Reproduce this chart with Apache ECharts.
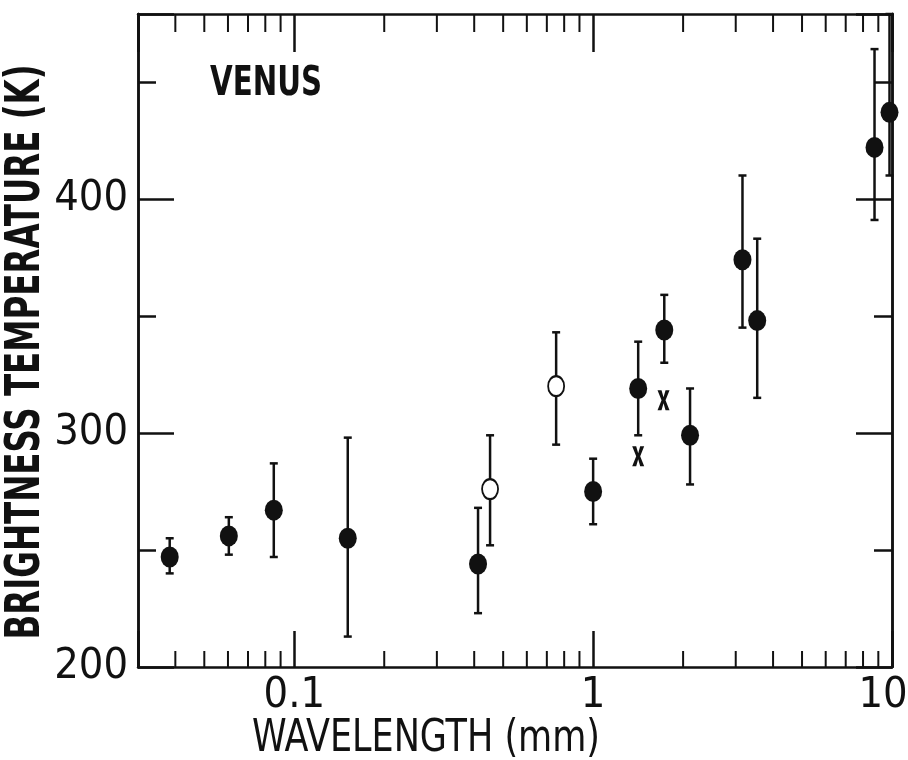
<!DOCTYPE html>
<html>
<head>
<meta charset="utf-8">
<title>Venus brightness temperature</title>
<script src="https://cdn.jsdelivr.net/npm/echarts@6/dist/echarts.min.js"></script>
<style>
html, body { margin: 0; padding: 0; background: #fff; }
#main { width: 908px; height: 760px; }
</style>
</head>
<body>
<div id="main"></div>
<script>
var font = '"DejaVu Sans Condensed", "Liberation Sans Narrow", sans-serif';
var ink = '#111';

/* filled dots: wavelength (mm), temperature (K), error bar low / high */
var dotX = [0.0383, 0.0604, 0.0854, 0.151, 0.412, 1.0, 1.415, 1.73, 2.11, 3.16, 3.54, 8.74, 9.81];
var dotY = [247, 256, 267, 255, 244, 275, 319, 344, 299, 374, 348, 422, 437];
var dotLow = [240, 248, 247, 213, 223, 261, 299, 330, 278, 345, 315, 391, 410];
var dotHigh = [255, 264, 287, 298, 268, 289, 339, 359, 319, 410, 383, 464, 479];

/* open circles */
var openX = [0.452, 0.752];
var openY = [276, 320];
var openLow = [252, 295];
var openHigh = [299, 343];

/* x marks */
var crossX = [1.415, 1.72];
var crossY = [290, 314];

/* axis ticks */
var xLabels = [0.1, 1, 10];
var yLabels = [200, 300, 400];
var minorX = [0.04, 0.05, 0.06, 0.07, 0.08, 0.09,
	0.2, 0.3, 0.4, 0.5, 0.6, 0.7, 0.8, 0.9,
	2, 3, 4, 5, 6, 7, 8, 9];

var yMin = 200, yMax = 479;

function pairs(xs, ys) {
	return xs.map(function(x, i) { return [x, ys[i]]; });
}
function bars(xs, lo, hi) {
	return xs.map(function(x, i) { return [x, lo[i], hi[i]]; });
}

/* squeeze a title to the width it has in the picture */
var measure = document.createElement('canvas').getContext('2d');
function title(text, css, width, x, y, rot) {
	measure.font = css;
	var w = measure.measureText(text).width;
	return {
		type: 'text', x: x, y: y, rotation: rot || 0, scaleX: width / w,
		style: { text: text, font: css, fill: ink, align: 'center', verticalAlign: 'middle' }
	};
}

/* vertical error bar with caps */
function errorBar(params, api) {
	var x = api.value(0);
	var lo = api.coord([x, api.value(1)]);
	var hi = api.coord([x, api.value(2)]);
	var w = 4;
	var st = { stroke: ink, lineWidth: 2.5 };
	return {
		type: 'group',
		children: [
			{ type: 'line', shape: { x1: lo[0], y1: lo[1], x2: hi[0], y2: hi[1] }, style: st },
			{ type: 'line', shape: { x1: lo[0] - w, y1: lo[1], x2: lo[0] + w, y2: lo[1] }, style: st },
			{ type: 'line', shape: { x1: hi[0] - w, y1: hi[1], x2: hi[0] + w, y2: hi[1] }, style: st }
		]
	};
}

/* minor log ticks on bottom and top */
function minorTick(params, api) {
	var b = api.coord([api.value(0), yMin]);
	var t = api.coord([api.value(0), yMax]);
	var st = { stroke: ink, lineWidth: 2 };
	return {
		type: 'group',
		children: [
			{ type: 'line', shape: { x1: b[0], y1: b[1], x2: b[0], y2: b[1] - 16 }, style: st },
			{ type: 'line', shape: { x1: t[0], y1: t[1], x2: t[0], y2: t[1] + 18 }, style: st }
		]
	};
}

function isDecade(v) {
	return xLabels.some(function(d) { return Math.abs(d - v) / d < 1e-6; });
}

function yAxis(pos, interval, len, labels) {
	return {
		type: 'value', position: pos, min: yMin, max: yMax, interval: interval,
		axisLine: { show: true, onZero: false, lineStyle: { color: ink, width: 2.5 } },
		axisTick: { inside: true, length: len, lineStyle: { color: ink, width: 2.5 } },
		axisLabel: {
			show: labels, margin: 10, fontSize: 43, fontFamily: font, color: ink,
			formatter: function(v) { return yLabels.indexOf(v) >= 0 ? String(v) : ''; }
		},
		splitLine: { show: false }
	};
}

var chart = echarts.init(document.getElementById('main'));
chart.setOption({
	animation: false,
	backgroundColor: '#fff',
	grid: { left: 138, right: 16, top: 14, bottom: 93, containLabel: false, outerBoundsMode: 'none' },
	xAxis: [{
		type: 'log', logBase: 10, min: 0.03, max: 10,
		axisLine: { onZero: false, lineStyle: { color: ink, width: 2.5 } },
		axisTick: { inside: true, length: 36, lineStyle: { color: ink, width: 2.5 } },
		axisLabel: {
			margin: 7, fontSize: 43, fontFamily: font, color: ink,
			formatter: function(v) {
				if (!isDecade(v)) return '';
				var s = String(+v.toPrecision(3));
				// last label sits at the window edge, pull it a bit to the left
				return v > 5 ? '{edge|' + s + '}' : s;
			},
			rich: {
				edge: { fontSize: 43, fontFamily: font, color: ink, padding: [0, 18, 0, 0] }
			}
		},
		splitLine: { show: false }
	}, {
		type: 'log', logBase: 10, min: 0.03, max: 10, position: 'top',
		axisLine: { onZero: false, lineStyle: { color: ink, width: 2.5 } },
		axisTick: { inside: true, length: 38, lineStyle: { color: ink, width: 2.5 } },
		axisLabel: { show: false },
		splitLine: { show: false }
	}],
	yAxis: [
		yAxis('left', 50, 18, true),
		yAxis('left', 100, 36, false),
		yAxis('right', 50, 18, false),
		yAxis('right', 100, 36, false)
	],
	graphic: [
		title('VENUS', 'bold 41px ' + font, 112, 266, 84),
		title('BRIGHTNESS TEMPERATURE (K)', 'bold 48px ' + font, 575, 27, 352, Math.PI / 2),
		title('WAVELENGTH (mm)', '45px ' + font, 348, 426, 739)
	],
	series: [{
		type: 'custom', name: 'minor ticks',
		renderItem: minorTick,
		data: minorX.map(function(x) { return [x, yMin]; }),
		encode: { x: 0, y: 1 },
		clip: false, silent: true, z: 1
	}, {
		type: 'custom', name: 'error bars',
		renderItem: errorBar,
		data: bars(dotX, dotLow, dotHigh).concat(bars(openX, openLow, openHigh)),
		encode: { x: 0, y: [1, 2] },
		clip: false, z: 2
	}, {
		type: 'scatter', name: 'filled',
		data: pairs(dotX, dotY),
		symbol: 'circle', symbolSize: [18, 21],
		itemStyle: { color: ink, opacity: 1 },
		z: 3
	}, {
		type: 'scatter', name: 'open',
		data: pairs(openX, openY),
		symbol: 'circle', symbolSize: [16, 20],
		itemStyle: { color: '#fff', borderColor: ink, borderWidth: 2, opacity: 1 },
		z: 3
	}, {
		type: 'scatter', name: 'cross',
		data: pairs(crossX, crossY),
		symbol: 'path://M0,0H4L6,7L8,0H12L8,10L12,20H8L6,13L4,20H0L4,10Z',
		symbolSize: [12, 20],
		itemStyle: { color: ink, opacity: 1 },
		z: 3
	}]
});
</script>
</body>
</html>
